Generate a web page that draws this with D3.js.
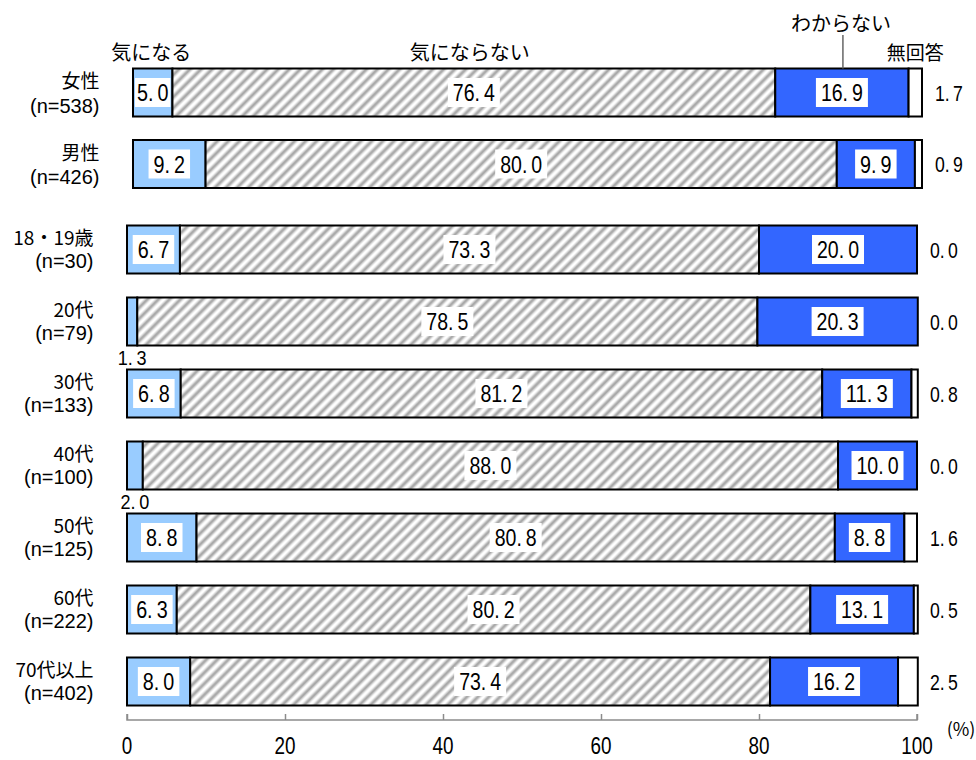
<!DOCTYPE html>
<html>
<head>
<meta charset="utf-8">
<script src="https://cdn.jsdelivr.net/npm/d3@7/dist/d3.min.js"></script>
<style>
  html, body { margin: 0; padding: 0; background: #fff; }
  svg { display: block; }
</style>
</head>
<body>
<svg id="chart" width="976" height="760"></svg>
<script>
// Response categories (stack order, left to right)
const seriesNames = ["気になる", "気にならない", "わからない", "無回答"];

// Group 1: by gender
const genderCats = ["女性", "男性"];
const genderN = [538, 426];
const genderKininaru = [5.0, 9.2];
const genderNot = [76.4, 80.0];
const genderUnknown = [16.9, 9.9];
const genderNoAnswer = [1.7, 0.9];

// Group 2: by age
const ageCats = ["18・19歳", "20代", "30代", "40代", "50代", "60代", "70代以上"];
const ageN = [30, 79, 133, 100, 125, 222, 402];
const ageKininaru = [6.7, 1.3, 6.8, 2.0, 8.8, 6.3, 8.0];
const ageNot = [73.3, 78.5, 81.2, 88.0, 80.8, 80.2, 73.4];
const ageUnknown = [20.0, 20.3, 11.3, 10.0, 8.8, 13.1, 16.2];
const ageNoAnswer = [0.0, 0.0, 0.8, 0.0, 1.6, 0.5, 2.5];

const axisTicks = [0, 20, 40, 60, 80, 100];

const svg = d3.select("#chart");
const W = 976, H = 760;
svg.append("rect").attr("width", W).attr("height", H).attr("fill", "#fff");

const JP = "'Noto Sans CJK JP', 'Noto Sans', sans-serif";
const NUM = "'Liberation Sans', Arial, sans-serif";
const colors = ["#99ccff", "url(#hatch)", "#3366ff", "#ffffff"];

// Diagonal soft hatch for 気にならない
const defs = svg.append("defs");
const grad = defs.append("linearGradient").attr("id", "stripeGrad")
  .attr("x1", "0").attr("x2", "1").attr("y1", "0").attr("y2", "0");
[[0, "#ffffff"], [0.12, "#ffffff"], [0.5, "#9a9a9a"], [0.88, "#ffffff"], [1, "#ffffff"]]
  .forEach(([o, c]) => grad.append("stop").attr("offset", o).attr("stop-color", c));
const pat = defs.append("pattern").attr("id", "hatch")
  .attr("patternUnits", "userSpaceOnUse")
  .attr("width", 7.8).attr("height", 7.8)
  .attr("patternTransform", "rotate(45)");
pat.append("rect").attr("width", 7.8).attr("height", 7.8).attr("fill", "url(#stripeGrad)");

// Scales
const xBottom = d3.scaleLinear().domain([0, 100]).range([127, 917]);
const xTop = d3.scaleLinear().domain([0, 100]).range([133, 922]);
const yTop = d3.scalePoint().domain(genderCats).range([92.5, 164]);
const yBottom = d3.scalePoint().domain(ageCats).range([249.5, 681.5]);
const barH = 48;

function buildRows(cats, ns, a, b, c, d) {
  return cats.map((cat, i) => ({ cat, n: ns[i], values: [a[i], b[i], c[i], d[i]] }));
}
const topRows = buildRows(genderCats, genderN, genderKininaru, genderNot, genderUnknown, genderNoAnswer);
const bottomRows = buildRows(ageCats, ageN, ageKininaru, ageNot, ageUnknown, ageNoAnswer);

// Narrow numeral text: each character gets a half-width cell
function numText(g, x, y, str, size, perChar, anchor) {
  const t = g.append("text")
    .attr("x", x).attr("y", y)
    .attr("text-anchor", anchor || "middle")
    .attr("dominant-baseline", "central")
    .attr("font-family", NUM)
    .attr("font-size", size)
    .attr("fill", "#000");
  const parts = str.split(".");
  if (parts.length === 2) {
    t.append("tspan").text(parts[0] + ".");
    t.append("tspan").attr("dx", perChar * 0.45).text(parts[1]);
  } else {
    t.text(str);
  }
  t.attr("textLength", str.length * perChar).attr("lengthAdjust", "spacingAndGlyphs");
  return t;
}

function drawGroup(rows, x, y, labelOffsets) {
  const g = svg.append("g");
  const labelX = x(0) - 33.5;
  rows.forEach(row => {
    const cy = y(row.cat);
    const top = cy - barH / 2;
    let acc = 0;
    const segs = row.values.map((v, k) => {
      const s = { k, v, x0: acc, x1: acc + v };
      acc += v;
      return s;
    });
    // segments
    segs.forEach(s => {
      if (s.v <= 0) return;
      g.append("rect")
        .attr("x", x(s.x0)).attr("y", top)
        .attr("width", x(s.x1) - x(s.x0)).attr("height", barH)
        .attr("fill", colors[s.k])
        .attr("stroke", "#000").attr("stroke-width", 2);
    });
    // value labels
    segs.forEach(s => {
      const str = s.v.toFixed(1);
      if (s.k === 3) {
        numText(g, x(100) + 13, cy, str, 22, 9.3, "start");
        return;
      }
      const segW = x(s.x1) - x(s.x0);
      const mid = (x(s.x0) + x(s.x1)) / 2;
      if (segW < 25) {
        numText(g, mid, top + barH + 11, str, 21, 9.6);
        return;
      }
      const tw = str.length * 10.5;
      const bw = Math.min(tw + 10, segW - 4);
      g.append("rect")
        .attr("x", mid - bw / 2).attr("y", cy - 14.5)
        .attr("width", bw).attr("height", 29)
        .attr("fill", "#fff");
      numText(g, mid, cy + 0.5, str, 23, 10.5);
    });
    // category labels: name, then sample size
    g.append("text")
      .attr("x", labelX).attr("y", cy + labelOffsets[0])
      .attr("text-anchor", "end").attr("dominant-baseline", "central")
      .attr("font-family", JP).attr("font-size", 19).attr("fill", "#000")
      .text(row.cat);
    g.append("text")
      .attr("x", labelX).attr("y", cy + labelOffsets[1])
      .attr("text-anchor", "end").attr("dominant-baseline", "central")
      .attr("font-family", NUM).attr("font-size", 20).attr("fill", "#000")
      .text(`(n=${row.n})`);
  });
}

drawGroup(topRows, xTop, yTop, [-13, 13]);
drawGroup(bottomRows, xBottom, yBottom, [-13.5, 11]);

// Series headings above the first bar
const first = topRows[0];
let cum = 0;
const mids = first.values.map(v => { const m = cum + v / 2; cum += v; return xTop(m); });
const headY = 51;
[0, 1, 3].forEach(k => {
  svg.append("text")
    .attr("x", mids[k] - (k === 0 ? 1.5 : 0) - (k === 1 ? 4 : 0)).attr("y", headY)
    .attr("text-anchor", "middle").attr("dominant-baseline", "central")
    .attr("font-family", JP).attr("font-size", k === 3 ? 19 : 20).attr("fill", "#000")
    .text(seriesNames[k]);
});
// わからない with leader line
svg.append("text")
  .attr("x", mids[2] - 1).attr("y", 22)
  .attr("text-anchor", "middle").attr("dominant-baseline", "central")
  .attr("font-family", JP).attr("font-size", 20).attr("fill", "#000")
  .text(seriesNames[2]);
svg.append("line")
  .attr("x1", mids[2] + 1).attr("x2", mids[2] + 1)
  .attr("y1", 35).attr("y2", yTop(genderCats[0]) - barH / 2)
  .attr("stroke", "#666").attr("stroke-width", 1.5);

// Axis
const axisY = 720;
const axisG = svg.append("g").attr("transform", `translate(0,${axisY})`);
axisG.call(d3.axisTop(xBottom).tickValues(axisTicks).tickSize(6).tickFormat(""));
axisG.selectAll("path, line").attr("stroke", "#8c8c8c").attr("stroke-width", 1.5);
axisG.select("path.domain").attr("d", `M${xBottom(0)},-6V0H${xBottom(100)}V-6`);
axisTicks.forEach(t => numText(svg, xBottom(t), 746, String(t), 23, 10.5));
svg.append("text")
  .attr("x", 961).attr("y", 728)
  .attr("text-anchor", "middle").attr("dominant-baseline", "central")
  .attr("font-family", JP).attr("font-size", 18).attr("fill", "#000")
  .text("(%)");
</script>
</body>
</html>
